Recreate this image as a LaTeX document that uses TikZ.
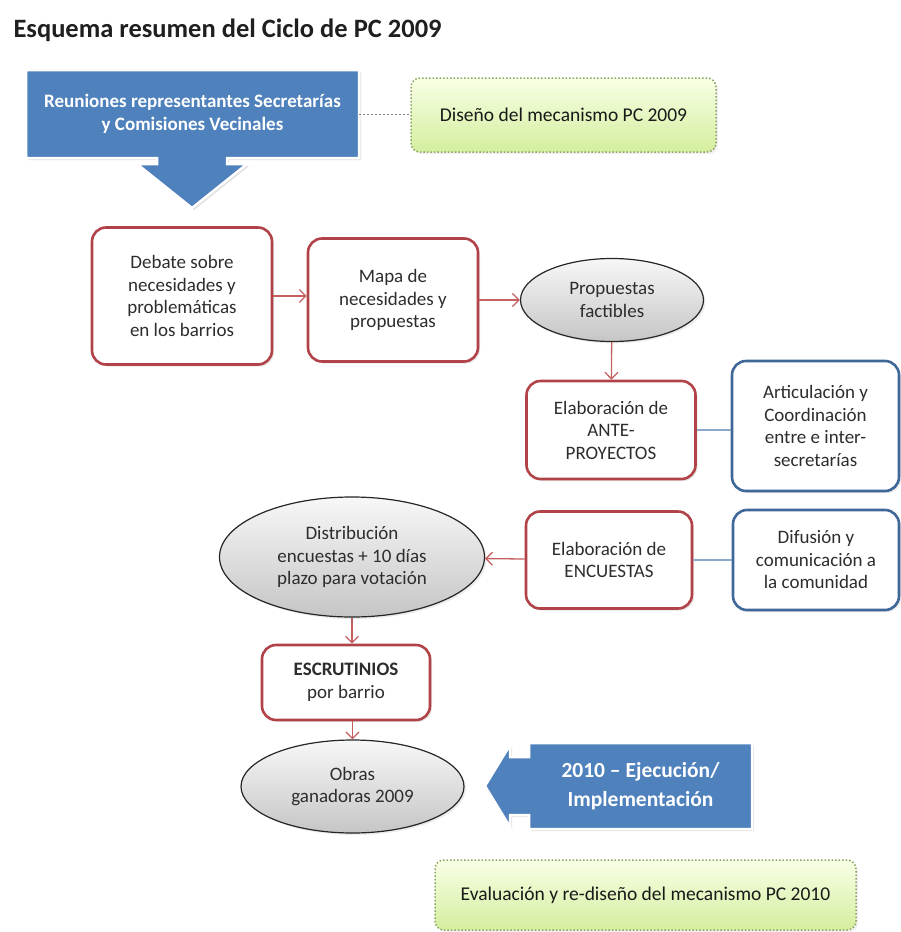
\documentclass[tikz,border=0pt]{standalone}
\usepackage{fontspec}
\setmainfont{Carlito}
\usetikzlibrary{arrows.meta,shadows,shapes.geometric}

\definecolor{pcblue}{RGB}{79,129,189}
\definecolor{pcred}{RGB}{176,66,72}
\definecolor{pcarrow}{RGB}{196,96,96}
\definecolor{pcline}{RGB}{140,168,204}
\definecolor{pcgreenA}{RGB}{248,255,230}
\definecolor{pcgreenB}{RGB}{212,238,158}
\definecolor{pcgreenD}{RGB}{140,165,100}
\definecolor{pctext}{RGB}{45,45,45}

\begin{document}
\begin{tikzpicture}[x=1pt, y=-1pt,
    >={Straight Barb[length=6.5pt,width=13pt]},
    txt/.style={font=\fontsize{19}{22.5}\selectfont, text=pctext, align=center, inner sep=1pt},
    redbox/.style={txt, draw=pcred, line width=2.6pt, rounded corners=14pt, fill=white,
      drop shadow={opacity=0.18, shadow xshift=2pt, shadow yshift=-2pt}},
    bluebox/.style={redbox, draw=pcblue!80!black},
    oval/.style={txt, ellipse, draw=black!85, line width=1.2pt, top color=gray!6, bottom color=gray!45,
      drop shadow={opacity=0.15, shadow xshift=2pt, shadow yshift=-2pt}},
    note/.style={txt, font=\fontsize{19.5}{23}\selectfont, text=black!90, draw=pcgreenD, dotted, line width=1.5pt,
      rounded corners=9pt, top color=pcgreenA, bottom color=pcgreenB,
      drop shadow={opacity=0.12, shadow xshift=2pt, shadow yshift=-2pt}},
    callout/.style={fill=pcblue, draw=white, line width=2.5pt,
      drop shadow={opacity=0.25, shadow xshift=2pt, shadow yshift=-2pt}},
    calltext/.style={font=\bfseries\fontsize{19}{23.5}\selectfont, text=white, align=center},
    flow/.style={->, draw=pcarrow, line width=1.3pt},
    link/.style={draw=pcline, line width=1.5pt}]

  \useasboundingbox (0,0) rectangle (901,932);

  \node[anchor=base west, font=\bfseries\fontsize{26.5}{30}\selectfont, text=black!88] (title) at (10,37)
    {Esquema resumen del Ciclo de PC 2009};

  % blue callouts
  \draw[callout] (26,70) -- (359,70) -- (359,158) -- (227,158) -- (227,164) -- (247,164)
    -- (192,208) -- (137,164) -- (157,164) -- (157,158) -- (26,158) -- cycle;
  \node[calltext, minimum width=333pt, minimum height=88pt] (reun) at (192.5,114)
    {Reuniones representantes Secretarías\\y Comisiones Vecinales};

  \draw[callout] (752,743) -- (752,829) -- (529,829) -- (529,815) -- (510,815) -- (510,827)
    -- (485,786) -- (510,745) -- (510,757) -- (529,757) -- (529,743) -- cycle;
  \node[calltext, font=\bfseries\fontsize{21.5}{29}\selectfont, minimum width=223pt, minimum height=86pt] (ejec) at (640.5,786)
    {2010 -- Ejecución/\\Implementación};

  % notes
  \node[note, minimum width=305pt, minimum height=74pt] (disenio) at (563.5,115) {Diseño del mecanismo PC 2009};
  \node[note, minimum width=421pt, minimum height=70pt] (evalua) at (645.5,895) {Evaluación y re-diseño del mecanismo PC 2010};

  % steps
  \node[redbox, minimum width=180pt, minimum height=137pt] (debate) at (182,296)
    {Debate sobre\\necesidades y\\problemáticas\\en los barrios};
  \node[redbox, minimum width=170pt, minimum height=123pt] (mapa) at (393,300)
    {Mapa de\\necesidades y\\propuestas};
  \node[oval, minimum width=183pt, minimum height=83pt] (propuestas) at (612,300)
    {Propuestas\\factibles};
  \node[redbox, minimum width=169pt, minimum height=98pt] (ante) at (611,430)
    {Elaboración de\\ANTE-\\PROYECTOS};
  \node[bluebox, minimum width=167pt, minimum height=130pt] (artic) at (815.5,426)
    {Articulación y\\Coordinación\\entre e inter-\\secretarías};
  \node[oval, minimum width=265pt, minimum height=120pt] (distrib) at (352,557)
    {Distribución\\encuestas + 10 días\\plazo para votación};
  \node[redbox, minimum width=166pt, minimum height=97pt] (encuestas) at (609,560)
    {Elaboración de\\ENCUESTAS};
  \node[bluebox, minimum width=166pt, minimum height=100pt] (difusion) at (816,560)
    {Difusión y\\comunicación a\\la comunidad};
  \node[redbox, minimum width=168pt, minimum height=75pt] (escrut) at (346,682.5)
    {\textbf{ESCRUTINIOS}\\por barrio};
  \node[oval, minimum width=223pt, minimum height=93pt] (obras) at (352.5,786.5)
    {Obras\\ganadoras 2009};

  % connectors
  \draw[gray, dash pattern=on 2pt off 2pt, line width=1pt] (reun.east) -- (reun.east -| disenio.west);
  \draw[flow] (debate.east) -- (debate.east -| mapa.west);
  \draw[flow] (mapa) -- (propuestas);
  \draw[flow] (propuestas) -- (ante);
  \draw[link] (ante.east) -- (ante.east -| artic.west);
  \draw[flow] (encuestas) -- (distrib);
  \draw[link] (encuestas) -- (difusion);
  \draw[flow] (distrib.south) -- (distrib.south |- escrut.north);
  \draw[flow] (obras |- escrut.south) -- (obras.north);
\end{tikzpicture}
\end{document}
